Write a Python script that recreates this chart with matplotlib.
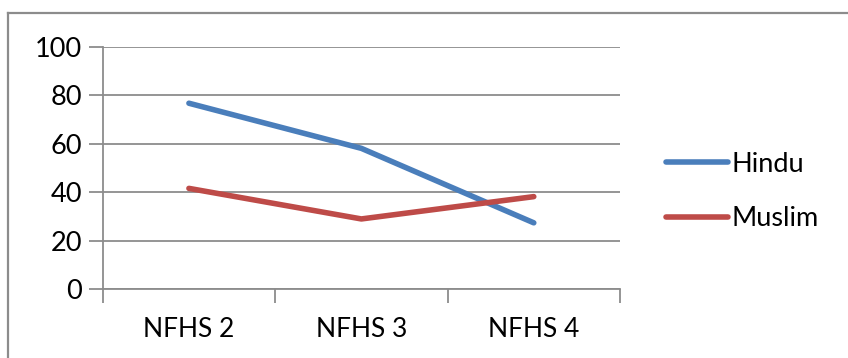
import matplotlib
matplotlib.use("Agg")
import matplotlib.pyplot as plt
from matplotlib.lines import Line2D

categories = ["NFHS 2", "NFHS 3", "NFHS 4"]
hindu = [76.7, 58.1, 27.4]
muslim = [41.6, 29.0, 38.2]
y_ticks = [0, 20, 40, 60, 80, 100]

W, H = 848, 358
fig = plt.figure(figsize=(W / 100, H / 100), dpi=100)
plt.rcParams["font.family"] = ["Lato", "DejaVu Sans"]

# chart frame (top and left edges)
fig.add_artist(Line2D([7.5 / W, 7.5 / W], [0, 1 - 12.5 / H], color="#8c8c8c", lw=1.6,
                      transform=fig.transFigure))
fig.add_artist(Line2D([7.5 / W, 1], [1 - 12.5 / H, 1 - 12.5 / H], color="#8c8c8c", lw=1.6,
                      transform=fig.transFigure))

left, right = 102.7, 620.0
top, bottom = 46.7, 289.3
ax = fig.add_axes([left / W, 1 - bottom / H, (right - left) / W, (bottom - top) / H])

x = list(range(len(categories)))
ax.plot(x, hindu, color="#4a7ebb", lw=4.0, solid_capstyle="round", solid_joinstyle="round",
        label="Hindu", zorder=3)
ax.plot(x, muslim, color="#be4b48", lw=4.0, solid_capstyle="round", solid_joinstyle="round",
        label="Muslim", zorder=3)

ax.set_xlim(-0.5, len(categories) - 0.5)
ax.set_ylim(0, 100)
ax.set_yticks(y_ticks)
ax.set_yticklabels([str(v) for v in y_ticks], fontsize=19.5)
ax.yaxis.grid(True, color="#8c8c8c", lw=1.3)
ax.set_axisbelow(True)

ax.set_xticks([i - 0.5 for i in range(len(categories) + 1)])
ax.set_xticklabels([])
ax.set_xticks(x, minor=True)
ax.set_xticklabels(categories, minor=True, fontsize=19)
ax.tick_params(axis="x", which="minor", length=0, pad=20)
ax.tick_params(axis="x", which="major", length=10, width=1.3, color="#8c8c8c")
ax.tick_params(axis="y", length=10, width=1.3, color="#8c8c8c", pad=5)

for s in ["top", "right"]:
    ax.spines[s].set_visible(False)
for s in ["left", "bottom"]:
    ax.spines[s].set_color("#8c8c8c")
    ax.spines[s].set_linewidth(1.3)

leg = fig.legend(loc="upper left", bbox_to_anchor=(652 / W, 1 - 138 / H),
                 frameon=False, fontsize=19.5, handlelength=2.3, handletextpad=0.15,
                 labelspacing=1.1, borderpad=0)

fig.savefig("out.png", dpi=100)
